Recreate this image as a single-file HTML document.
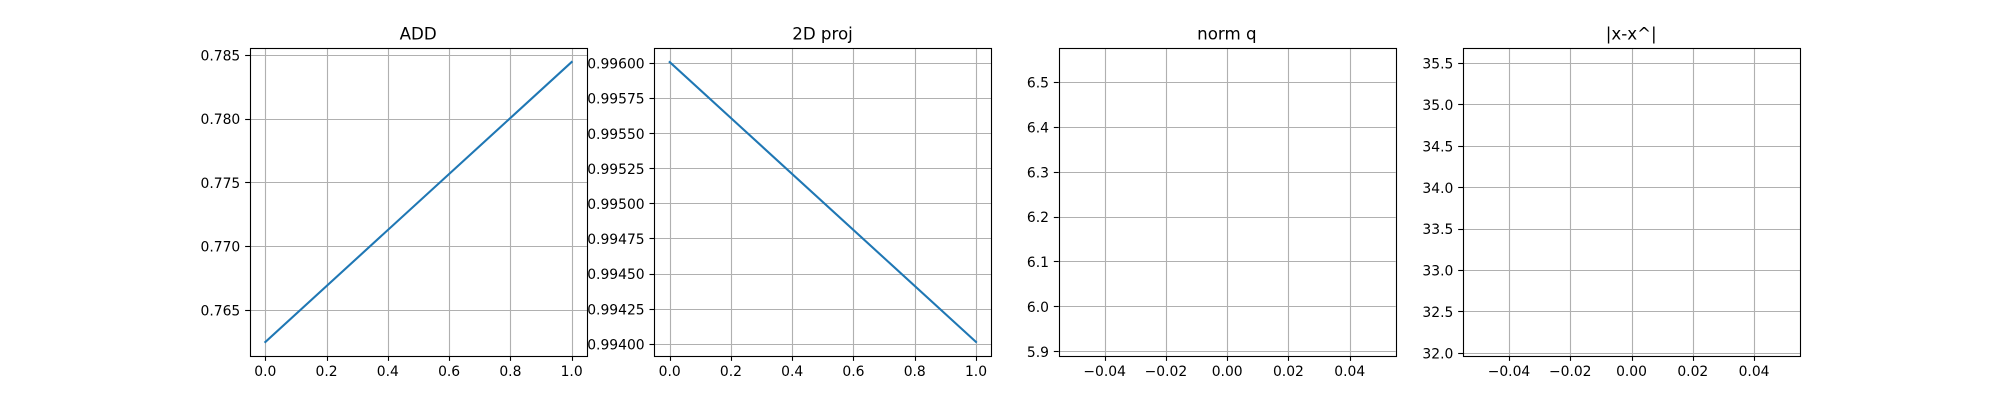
<!DOCTYPE html>
<html lang="en">
<head>
<meta charset="utf-8">
<title>Metrics chart</title>
<style>
html,body{margin:0;padding:0;background:#fff;width:2000px;height:400px;overflow:hidden}
svg{display:block}
text{font-family:"DejaVu Sans","Liberation Sans",sans-serif;fill:#000}
</style>
</head>
<body>
<svg id="figure" xmlns="http://www.w3.org/2000/svg" width="2000" height="400" viewBox="0 0 2000 400"></svg>
<script>
// Panel titles
const addTitle = 'ADD';
const projTitle = '2D proj';
const normTitle = 'norm q';
const diffTitle = '|x-x^|';

// Series values
const addX = [0, 1];
const addY = [0.76251, 0.78447];
const projX = [0, 1];
const projY = [0.99601, 0.994016];
const normX = [];
const normY = [];
const diffX = [];
const diffY = [];

// Axis ranges
const addXRange = [-0.05, 1.05];
const addYRange = [0.76141, 0.78557];
const projXRange = [-0.05, 1.05];
const projYRange = [0.993916, 0.99611];
const normXRange = [-0.055, 0.055];
const normYRange = [5.8904, 6.5766];
const diffXRange = [-0.055, 0.055];
const diffYRange = [31.967, 35.685];

// Tick values
const unitXTicks = [0, 0.2, 0.4, 0.6, 0.8, 1];
const smallXTicks = [-0.04, -0.02, 0, 0.02, 0.04];
const addYTicks = [0.765, 0.77, 0.775, 0.78, 0.785];
const projYTicks = [0.994, 0.99425, 0.9945, 0.99475, 0.995, 0.99525, 0.9955, 0.99575, 0.996];
const normYTicks = [5.9, 6, 6.1, 6.2, 6.3, 6.4, 6.5];
const diffYTicks = [32, 32.5, 33, 33.5, 34, 34.5, 35, 35.5];

const panels = [
  {key:'add', title:addTitle, xs:addX, ys:addY, xr:addXRange, yr:addYRange, xt:unitXTicks, yt:addYTicks, xd:1, yd:3},
  {key:'proj', title:projTitle, xs:projX, ys:projY, xr:projXRange, yr:projYRange, xt:unitXTicks, yt:projYTicks, xd:1, yd:5},
  {key:'norm', title:normTitle, xs:normX, ys:normY, xr:normXRange, yr:normYRange, xt:smallXTicks, yt:normYTicks, xd:2, yd:1},
  {key:'diff', title:diffTitle, xs:diffX, ys:diffY, xr:diffXRange, yr:diffYRange, xt:smallXTicks, yt:diffYTicks, xd:2, yd:1}
];

const NS = 'http://www.w3.org/2000/svg';
const svg = document.getElementById('figure');
const LEFT = 250, TOP = 48, BOTTOM = 356, AXW = 336.96, GAP = 67.39;
const snapX = v => Math.round(v) + 0.5;
const snapY = v => Math.floor(v) + 0.5;
const fmt = (v, d) => (v < -1e-12 ? '\u2212' : '') + Math.abs(v).toFixed(d);

function shape(parent, tag, props) {
  const el = document.createElementNS(NS, tag);
  for (const k in props) el.setAttribute(k, props[k]);
  parent.appendChild(el);
  return el;
}

panels.forEach(function (p, i) {
  const left = LEFT + i * (AXW + GAP);
  const right = left + AXW;
  const sx = v => left + (v - p.xr[0]) / (p.xr[1] - p.xr[0]) * AXW;
  const sy = v => BOTTOM - (v - p.yr[0]) / (p.yr[1] - p.yr[0]) * (BOTTOM - TOP);

  const g = shape(svg, 'g', {});
  
  

  const clip = shape(g, 'clipPath', {id: 'clip-' + p.key});
  shape(clip, 'rect', {x: left, y: TOP, width: AXW, height: BOTTOM - TOP});

  p.xt.forEach(function (t) {
    const x = snapX(sx(t));
    const grid = shape(g, 'line', {x1: x, x2: x, y1: TOP, y2: BOTTOM, stroke: '#b0b0b0', 'stroke-width': 1.11});
    
    
    const tick = shape(g, 'line', {x1: x, x2: x, y1: BOTTOM, y2: BOTTOM + 4.86, stroke: '#000', 'stroke-width': 1.11});
    
    
    const label = shape(g, 'text', {x: sx(t), y: 376, 'text-anchor': 'middle', 'font-size': 13.89});
    label.textContent = fmt(t, p.xd);
    
    
  });

  p.yt.forEach(function (t) {
    const y = snapY(sy(t));
    const grid = shape(g, 'line', {x1: left, x2: right, y1: y, y2: y, stroke: '#b0b0b0', 'stroke-width': 1.11});
    
    
    const tick = shape(g, 'line', {x1: left - 4.86, x2: left, y1: y, y2: y, stroke: '#000', 'stroke-width': 1.11});
    
    
    const label = shape(g, 'text', {x: left - 9.72, y: sy(t) + 5.2, 'text-anchor': 'end', 'font-size': 13.89});
    label.textContent = fmt(t, p.yd);
    
    
  });

  if (p.xs.length) {
    const pts = p.xs.map((x, n) => sx(x).toFixed(2) + ',' + sy(p.ys[n]).toFixed(2)).join(' ');
    const line = shape(g, 'polyline', {points: pts, fill: 'none', stroke: '#1f77b4', 'stroke-width': 2.08, 'stroke-linecap': 'square', 'stroke-linejoin': 'round', 'clip-path': 'url(#clip-' + p.key + ')'});
    
    
  }

  const frameLeft = snapX(left);
  const frameRight = snapX(right);
  const frame = shape(g, 'rect', {x: frameLeft, y: TOP + 0.5, width: frameRight - frameLeft, height: BOTTOM - TOP, fill: 'none', stroke: '#000', 'stroke-width': 1.11});
  
  

  const title = shape(g, 'text', {x: left + AXW / 2 - 0.3, y: 39.7, 'text-anchor': 'middle', 'font-size': 16.67});
  title.textContent = p.title;
  
  
});
</script>
</body>
</html>
